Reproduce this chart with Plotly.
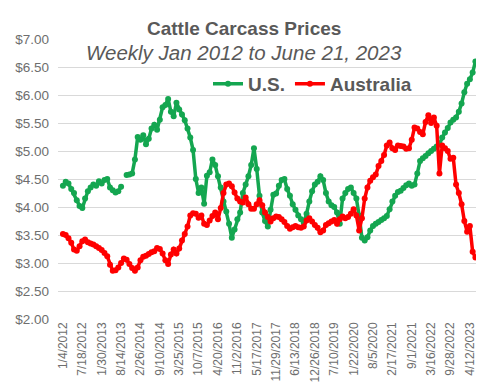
import pandas as pd
import plotly.graph_objects as go

start_date = "2012-01-04"
us_prices = [
    4.38, 4.45, 4.42, 4.32, 4.25, 4.12, 4.02, 3.98, 4.15, 4.28,
    4.35, 4.40, 4.38, 4.46, 4.42, 4.48, 4.50, 4.35, 4.30, 4.26,
    4.28, 4.36, None, 4.57, 4.58, 4.60, 4.85, 5.25, 5.20, 5.28,
    5.12, 5.22, 5.40, 5.47, 5.38, 5.56, 5.78, 5.82, 5.93, 5.70,
    5.62, 5.86, 5.74, 5.65, 5.55, 5.40, 5.24, 5.02, 4.50, 4.25,
    4.35, 4.06, 4.56, 4.62, 4.85, 4.75, 4.55, 4.35, 4.10, 3.92,
    3.70, 3.45, 3.60, 3.78, 3.90, 4.25, 4.40, 4.55, 4.75, 5.05,
    4.68, 4.20, 3.90, 3.75, 3.65, 3.95, 4.22, 4.24, 4.38, 4.48,
    4.50, 4.32, 4.20, 4.05, 3.95, 3.85, 3.78, 3.72, 3.88, 4.10,
    4.28, 4.40, 4.45, 4.55, 4.48, 4.25, 4.10, 4.03, 4.00, 3.90,
    3.70, 4.15, 4.25, 4.32, 4.35, 4.25, 4.15, 3.85, 3.45, 3.40,
    3.46, 3.58, 3.66, 3.70, 3.73, 3.77, 3.80, 3.84, 3.96, 4.10,
    4.20, 4.27, 4.29, 4.34, 4.39, 4.42, 4.38, 4.40, 4.60, 4.82,
    4.87, 4.91, 4.96, 5.00, 5.04, 5.08, 5.13, 5.24, 5.33, 5.41,
    5.51, 5.56, 5.60, 5.70, 5.85, 6.05, 6.20, 6.28, 6.40, 6.60,
]
aus_prices = [
    3.52, 3.50, 3.44, 3.36, 3.24, 3.22, 3.30, 3.39, 3.42, 3.37,
    3.35, 3.33, 3.30, 3.27, 3.23, 3.18, 3.12, 2.97, 2.86, 2.87,
    2.92, 3.00, 3.08, 3.06, 2.98, 2.91, 2.86, 2.92, 3.05, 3.11,
    3.13, 3.16, 3.19, 3.21, 3.27, 3.25, 3.17, 3.05, 2.98, 3.15,
    3.24, 3.17, 3.26, 3.40, 3.52, 3.65, 3.85, 3.89, 3.88, 3.81,
    3.85, 3.70, 3.68, 3.76, 3.84, 3.90, 3.78, 3.98, 4.25, 4.40,
    4.42, 4.37, 4.26, 4.15, 4.10, 4.08, 4.17, 4.05, 3.97, 3.97,
    4.05, 4.12, 4.03, 3.90, 3.82, 3.74, 3.80, 3.83, 3.82, 3.78,
    3.73, 3.66, 3.61, 3.64, 3.66, 3.64, 3.63, 3.65, 3.76, 3.80,
    3.74, 3.68, 3.63, 3.55, 3.58, 3.68, 3.71, 3.74, 3.77, 3.70,
    3.78, 3.83, 3.80, 3.82, 3.88, 3.96, 3.85, 3.58, 3.80, 4.15,
    4.35, 4.47, 4.53, 4.58, 4.73, 4.82, 4.93, 5.10, 5.15, 5.05,
    5.02, 5.10, 5.09, 5.08, 5.04, 5.05, 5.20, 5.42, 5.40, 5.34,
    5.30, 5.52, 5.64, 5.50, 5.60, 5.45, 4.60, 5.10, 5.05, 5.00,
    4.86, 4.88, 4.40, 4.25, 4.05, 3.75, 3.56, 3.66, 3.20, 3.10,
]
tick_labels = [
    "1/4/2012", "7/18/2012", "1/30/2013", "8/14/2013", "2/26/2014", "9/10/2014",
    "3/25/2015", "10/7/2015", "4/20/2016", "11/2/2016", "5/17/2017", "11/29/2017",
    "6/13/2018", "12/26/2018", "7/10/2019", "1/22/2020", "8/5/2020", "2/17/2021",
    "9/1/2021", "3/16/2022", "9/28/2022", "4/12/2023",
]
y_ticks = [2.0, 2.5, 3.0, 3.5, 4.0, 4.5, 5.0, 5.5, 6.0, 6.5, 7.0]

dates = pd.date_range(start_date, periods=len(us_prices), freq="28D")
tick_vals = pd.to_datetime(tick_labels, format="%m/%d/%Y")

GREEN = "#14A650"
RED = "#FF0000"
TXT = "#595959"
TICK = "#6E6E6E"
FONT = "Liberation Sans"

fig = go.Figure()
fig.add_trace(go.Scatter(
    x=dates, y=us_prices, name="U.S.", mode="lines+markers",
    line=dict(color=GREEN, width=3.5), marker=dict(color=GREEN, size=6),
    connectgaps=False,
))
fig.add_trace(go.Scatter(
    x=dates, y=aus_prices, name="Australia", mode="lines+markers",
    line=dict(color=RED, width=3.5), marker=dict(color=RED, size=6),
))

# The page body has an 8px default margin, so the figure is sized to fit the window.
fig.update_layout(
    width=476, height=376,
    margin=dict(l=50, r=7, t=31, b=65, autoexpand=False),
    paper_bgcolor="white", plot_bgcolor="white",
    font=dict(family=FONT, color=TXT),
    showlegend=True,
    legend=dict(
        orientation="h", x=0.358, y=0.84, xanchor="left", yanchor="middle",
        font=dict(family=FONT, size=19, color=TXT, weight="bold"),
        bgcolor="rgba(0,0,0,0)", itemwidth=30,
    ),
    xaxis=dict(
        type="date", range=["2011-11-15", "2023-06-23"],
        tickmode="array", tickvals=tick_vals, ticktext=tick_labels,
        tickangle=-90, tickfont=dict(family=FONT, size=12, color=TICK),
        showgrid=False, showline=False, zeroline=False, ticks="",
        automargin=False,
    ),
    yaxis=dict(
        range=[2.0, 7.0], tickmode="array", tickvals=y_ticks,
        ticktext=[f"${v:.2f}" for v in y_ticks],
        tickfont=dict(family=FONT, size=13.5, color=TICK),
        showgrid=True, gridcolor="#D9D9D9", gridwidth=1,
        showline=False, zeroline=False, ticks="", automargin=False,
        ticklabelstandoff=8,
    ),
    annotations=[
        dict(text="<b>Cattle Carcass Prices</b>", xref="paper", yref="paper",
             x=0.444, y=1.037, xanchor="center", yanchor="middle", showarrow=False,
             font=dict(family=FONT, size=19, color=TXT)),
        dict(text="<i>Weekly Jan 2012 to June 21, 2023</i>", xref="paper", yref="paper",
             x=0.444, y=0.951, xanchor="center", yanchor="middle", showarrow=False,
             font=dict(family=FONT, size=20.5, color=TXT)),
    ],
)

fig.write_html("out.html")
